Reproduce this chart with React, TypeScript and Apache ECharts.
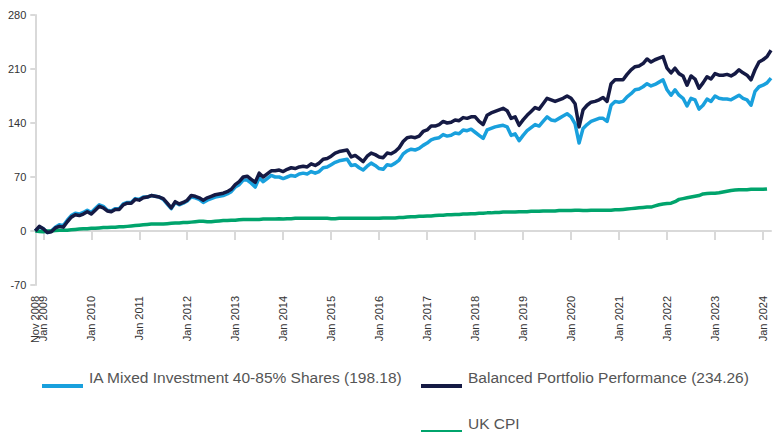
import React, { useEffect, useRef } from "react";
import * as echarts from "echarts";

const START_YEAR = 2008;
const START_MONTH = 10; // November (0-based)
const MONTH_NAMES = ["Jan", "Feb", "Mar", "Apr", "May", "Jun", "Jul", "Aug", "Sep", "Oct", "Nov", "Dec"];

const balanced = [
  0, 6, 3, -2, -1, 4, 6, 5, 12, 18,
  21, 20, 22, 25, 22, 27, 32, 30, 26, 25,
  28, 28, 34, 36, 36, 41, 40, 43, 44, 46,
  45, 44, 42, 36, 30, 38, 35, 37, 40, 46,
  45, 43, 40, 43, 45, 47, 48, 49, 51, 54,
  60, 64, 70, 71, 67, 63, 75, 70, 74, 78,
  78, 79, 77, 80, 82, 81, 83, 84, 83, 87,
  85, 88, 93, 94, 97, 101, 103, 104, 105, 96,
  98, 94, 90, 97, 101, 99, 96, 95, 101, 100,
  103, 108, 116, 121, 122, 121, 123, 129, 131, 136,
  136, 138, 142, 140, 141, 144, 143, 147, 146, 148,
  148, 142, 138, 150, 153, 155, 157, 159, 156, 146,
  148, 137, 144, 150, 155, 160, 158, 165, 172, 170,
  168, 170, 172, 175, 172, 165, 135, 157, 163, 167,
  168, 170, 173, 168, 191, 196, 196, 196, 203, 209,
  213, 214, 217, 223, 219, 222, 224, 226, 211, 205,
  211, 204, 201, 189, 201, 197, 185, 192, 200, 197,
  204, 202, 202, 203, 201, 204, 209, 205, 202, 196,
  209, 219, 222, 226, 234.26,
];

const iaMixed = [
  0, 5, 3, -2, 0, 5, 8, 7, 14, 20,
  23, 22, 24, 27, 24, 29, 34, 32, 27, 26,
  29, 29, 35, 37, 37, 42, 41, 44, 44, 46,
  45, 44, 41, 35, 29, 37, 34, 36, 39, 44,
  43, 41, 37, 40, 42, 44, 45, 46, 48, 51,
  57, 60, 66, 66, 62, 57, 69, 64, 68, 72,
  70, 70, 68, 70, 72, 71, 74, 75, 74, 77,
  75, 77, 82, 83, 86, 89, 91, 92, 93, 85,
  86, 82, 79, 84, 88, 85, 81, 80, 86, 85,
  88, 92, 100, 104, 106, 105, 107, 111, 114, 118,
  120, 121, 125, 123, 124, 127, 126, 131, 130, 132,
  128, 124, 120, 131, 133, 135, 136, 137, 135, 124,
  126, 117, 124, 130, 134, 138, 136, 142, 148, 144,
  143, 146, 149, 152, 148, 139, 114, 133, 138, 142,
  144, 146, 146, 142, 163, 168, 167, 168, 174, 178,
  183, 184, 187, 191, 188, 190, 193, 196, 183, 176,
  183, 176, 172, 162, 172, 170, 158, 163, 171, 168,
  175, 172, 171, 171, 170, 173, 176, 172, 170, 163,
  181, 187, 189, 192, 198.18,
];

const ukCpi = [
  0, -0.5, -1, 0, 0, 0.5, 1, 1, 1, 1.5,
  2, 2.5, 3, 3, 3.5, 3.5, 4, 4.5, 4.5, 5,
  5, 5.5, 5.5, 6, 6.5, 7, 7.5, 8, 8.5, 9,
  9, 9, 9, 9.5, 10, 10.5, 10.5, 11, 11, 11.5,
  12, 12.5, 12.5, 12, 12, 12.5, 13, 13.5, 13.5, 14,
  14, 14.5, 15, 15, 15, 15, 15, 15.5, 15.5, 15.5,
  15.5, 16, 15.5, 16, 16, 16.5, 16.5, 16.5, 16.5, 16.5,
  16.5, 16.5, 16.5, 16.5, 16, 16, 16.5, 16.5, 16.5, 16.5,
  16.5, 16.5, 16.5, 16.5, 16.5, 16.5, 16.5, 17, 17, 17,
  17, 17.5, 17.5, 18, 18.5, 18.5, 19, 19, 19.5, 19.5,
  20, 20.5, 20.5, 21, 21, 21.5, 21.5, 22, 22, 22.5,
  22.5, 23, 23, 23.5, 23.5, 24, 24, 24.5, 24.5, 24.5,
  24.5, 25, 25, 25, 25.5, 25.5, 25.5, 26, 26, 26,
  26, 26.5, 26.5, 26.5, 26.5, 27, 27, 26.5, 26.5, 27,
  27, 27, 27, 27, 27, 27.5, 27.5, 28, 28.5, 29,
  29.5, 30, 30.5, 31, 31, 32.5, 34, 35, 35.5, 36,
  38, 41, 42, 43, 44, 45, 46, 48, 48.5, 49,
  49, 49.5, 50.5, 51.5, 52.5, 53, 53.5, 53.5, 53.5, 54,
  54, 54, 54, 54.5, null,
];

const yTicks = [-70, 0, 70, 140, 210, 280];

const seriesNames = [
  "IA Mixed Investment 40-85% Shares (198.18)",
  "Balanced Portfolio Performance (234.26)",
  "UK CPI",
];
const seriesColors = ["#19a0dd", "#151a44", "#00a46c"];

const categories: string[] = balanced.map((_, i) => {
  const m = (START_MONTH + i) % 12;
  const y = START_YEAR + Math.floor((START_MONTH + i) / 12);
  return MONTH_NAMES[m] + " " + y;
});

const legendIcon = "path://M0,0L0.01,0L0.01,0.01ZM0,18L41,18L41,22L0,22Z";

export default function App() {
  const ref = useRef<HTMLDivElement>(null);
  useEffect(() => {
    document.body.style.margin = "0";
    const chart = echarts.init(ref.current!, null, { renderer: "svg" });
    const showJanLabel = (i: number, v: string) => v.startsWith("Jan");
    const showFirstLabel = (i: number) => i === 0;
    const showTick = (i: number, v: string) => v.startsWith("Jan");
    const labelFont = {
      fontFamily: "Liberation Sans, Arial, sans-serif",
      fontSize: 11,
      color: "#333333",
    };
    const legendText = {
      fontFamily: "Liberation Sans, Arial, sans-serif",
      fontSize: 15.5,
      color: "#555555",
      padding: [0, 0, 0, 1],
    };
    const legendCommon = {
      itemWidth: 41,
      itemHeight: 22,
      itemGap: 6,
      icon: legendIcon,
      textStyle: legendText,
      padding: 0,
      selectedMode: false,
    };
    const labelAxis = (interval: any, extra: any) => ({
      type: "category",
      data: categories,
      boundaryGap: false,
      position: "bottom",
      axisLine: { show: false, onZero: false },
      axisTick: { show: false },
      axisLabel: {
        show: true,
        interval,
        hideOverlap: false,
        rotate: 90,
        margin: 11,
        ...labelFont,
        ...extra,
      },
      splitLine: { show: false },
    });
    chart.setOption({
      animation: false,
      backgroundColor: "#ffffff",
      grid: { left: 35.3, right: 5, top: 15, bottom: 147, containLabel: false },
      legend: [
        { ...legendCommon, data: [seriesNames[0]], left: 42, top: 366 },
        { ...legendCommon, data: [seriesNames[1]], left: 421, top: 366 },
        { ...legendCommon, data: [seriesNames[2]], left: 421, top: 412 },
      ],
      xAxis: [
        {
          type: "category",
          data: categories,
          boundaryGap: false,
          axisLine: { show: true, onZero: true, lineStyle: { color: "#d9d9d9", width: 2 } },
          axisTick: { show: true, interval: showTick, length: 9, lineStyle: { color: "#d9d9d9", width: 2 } },
          axisLabel: { show: false },
          splitLine: { show: false },
        },
        labelAxis(showJanLabel, {}),
        labelAxis(showFirstLabel, { showMinLabel: true }),
      ],
      yAxis: {
        type: "value",
        min: yTicks[0],
        max: yTicks[yTicks.length - 1],
        interval: 70,
        axisLine: { show: true, lineStyle: { color: "#d9d9d9", width: 2 } },
        axisTick: { show: true, length: 5, lineStyle: { color: "#d9d9d9", width: 2 } },
        axisLabel: { margin: 9, ...labelFont },
        splitLine: { show: false },
      },
      series: [
        {
          name: seriesNames[0],
          type: "line",
          data: iaMixed,
          xAxisIndex: 0,
          showSymbol: false,
          symbol: "none",
          lineStyle: { color: seriesColors[0], width: 3.5, join: "round" },
          itemStyle: { color: seriesColors[0] },
          z: 2,
        },
        {
          name: seriesNames[1],
          type: "line",
          data: balanced,
          xAxisIndex: 0,
          showSymbol: false,
          symbol: "none",
          lineStyle: { color: seriesColors[1], width: 3.5, join: "round" },
          itemStyle: { color: seriesColors[1] },
          z: 3,
        },
        {
          name: seriesNames[2],
          type: "line",
          data: ukCpi,
          xAxisIndex: 0,
          showSymbol: false,
          symbol: "none",
          lineStyle: { color: seriesColors[2], width: 3.5, join: "round" },
          itemStyle: { color: seriesColors[2] },
          z: 2,
        },
      ],
    });
    return () => chart.dispose();
  }, []);
  return <div ref={ref} style={{ width: 776, height: 432 }} />;
}
